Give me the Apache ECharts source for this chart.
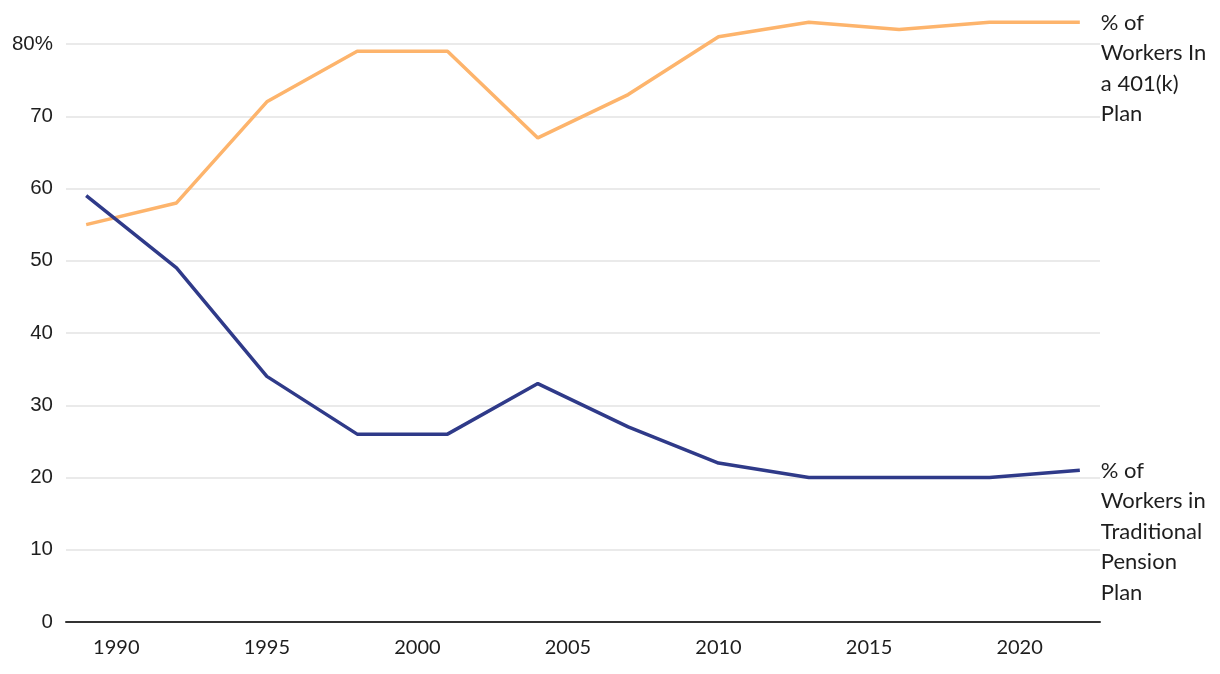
<!DOCTYPE html>
<html><head><meta charset="utf-8">
<script src="https://cdn.jsdelivr.net/npm/echarts@6/dist/echarts.min.js"></script>
<style>html,body{margin:0;padding:0;background:#fff}#c{width:1220px;height:674px}</style>
</head><body><div id="c"></div>
<script>
const years = [1989, 1992, 1995, 1998, 2001, 2004, 2007, 2010, 2013, 2016, 2019, 2022];
const plan401k = [55, 58, 72, 79, 79, 67, 73, 81, 83, 82, 83, 83];
const pension = [59, 49, 34, 26, 26, 33, 27, 22, 20, 20, 20, 21];
const xTickLabels = [1990, 1995, 2000, 2005, 2010, 2015, 2020];
const label401k = '% of\nWorkers In\na 401(k)\nPlan';
const labelPension = '% of\nWorkers in\nTraditional\nPension\nPlan';

const endFont = {fontFamily: '"Source Sans Pro", Lato, "Noto Sans", sans-serif', fontSize: 22, color: '#1e1e1e', lineHeight: 30.5};
function mk(name, vals, color, text) {
  return {
    name, type: 'line', data: years.map((y, i) => [y, vals[i]]),
    symbol: 'none', clip: false, silent: true,
    lineStyle: {color, width: 3.5},
    endLabel: Object.assign({show: true, formatter: () => text, distance: 21, align: 'left', verticalAlign: 'top', offset: [0, -15]}, endFont),
    animation: false
  };
}
const chart = echarts.init(document.getElementById('c'));
chart.setOption({
  animation: false,
  grid: {left: 66, right: 120, top: 44, bottom: 52},
  xAxis: {
    type: 'value', min: 1988.33, max: 2022.67,
    axisLine: {show: true, lineStyle: {color: '#333', width: 2}},
    axisTick: {show: false},
    splitLine: {show: false},
    axisLabel: {customValues: xTickLabels, margin: 16, color: '#1e1e1e', fontSize: 20,
      formatter: v => String(v),
      fontFamily: '"Source Sans Pro", Lato, "Noto Sans", sans-serif'}
  },
  yAxis: {
    type: 'value', min: 0, max: 80, interval: 10,
    axisLine: {show: false}, axisTick: {show: false},
    splitLine: {lineStyle: {color: '#e3e3e3', width: 1.5}},
    axisLabel: {margin: 13, color: '#1e1e1e', fontSize: 20.5, fontFamily: '"Liberation Sans", Arial, sans-serif',
      formatter: v => v === 80 ? '80%' : String(v)}
  },
  series: [mk('401k', plan401k, '#fdb46c', label401k), mk('pension', pension, '#2f3a89', labelPension)]
});
</script></body></html>
